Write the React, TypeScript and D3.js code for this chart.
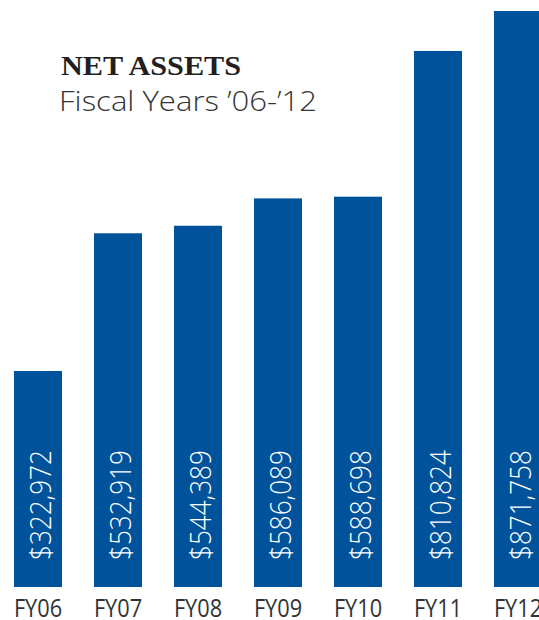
import React from "react";
import * as d3 from "d3";

const categories = ["FY06", "FY07", "FY08", "FY09", "FY10", "FY11", "FY12"];
const netAssets = [322972, 532919, 544389, 586089, 588698, 810824, 871758];
const valueLabels = ["$322,972", "$532,919", "$544,389", "$586,089", "$588,698", "$810,824", "$871,758"];
const titleText = "NET ASSETS";
const subtitleText = "Fiscal Years \u201906-\u201912";

const W = 539;
const H = 620;
const BAR = "#00529b";
const TEXT = "#333333";

export default function App() {
  const x = d3.scaleBand<string>().domain(categories).range([14, 542]).paddingInner(0.4).paddingOuter(0);
  const y = d3.scaleLinear().domain([-6300, 871758]).range([587, 11]);
  const base = y(-6300);

  return (
    <svg
      width={W}
      height={H}
      viewBox={`0 0 ${W} ${H}`}
      style={{ position: "absolute", left: 0, top: 0, background: "#fff" }}
    >
      <rect x={0} y={0} width={W} height={H} fill="#fff" />
      {categories.map((c, i) => {
        const bx = x(c) as number;
        const bw = x.bandwidth();
        const cx = bx + bw / 2;
        return (
          <g key={c}>
            <rect x={bx} y={y(netAssets[i])} width={bw} height={base - y(netAssets[i])} fill={BAR} />
            <text
              transform={`translate(${cx + 1},560) rotate(-90) scale(0.87,1)`}
              dominantBaseline="central"
              fontFamily="'Open Sans', sans-serif"
              fontWeight={300}
              fontSize={30}
              fill="#fff"
            >
              {valueLabels[i]}
            </text>
            <text
              transform={`translate(${cx},617) scale(0.87,1)`}
              textAnchor="middle"
              fontFamily="'Open Sans', sans-serif"
              fontWeight={400}
              fontSize={25}
              fill={TEXT}
            >
              {c}
            </text>
          </g>
        );
      })}
      <text
        x={61}
        y={74.5}
        fontFamily="'Liberation Serif', 'Times New Roman', serif"
        fontWeight={700}
        fontSize={26.5}
        fill="#231f20"
        textLength={180}
        lengthAdjust="spacingAndGlyphs"
      >
        {titleText}
      </text>
      <text
        x={59}
        y={110.5}
        fontFamily="'Open Sans', sans-serif"
        fontWeight={300}
        fontSize={27.5}
        fill={TEXT}
        textLength={258}
        lengthAdjust="spacingAndGlyphs"
      >
        {subtitleText}
      </text>
    </svg>
  );
}
